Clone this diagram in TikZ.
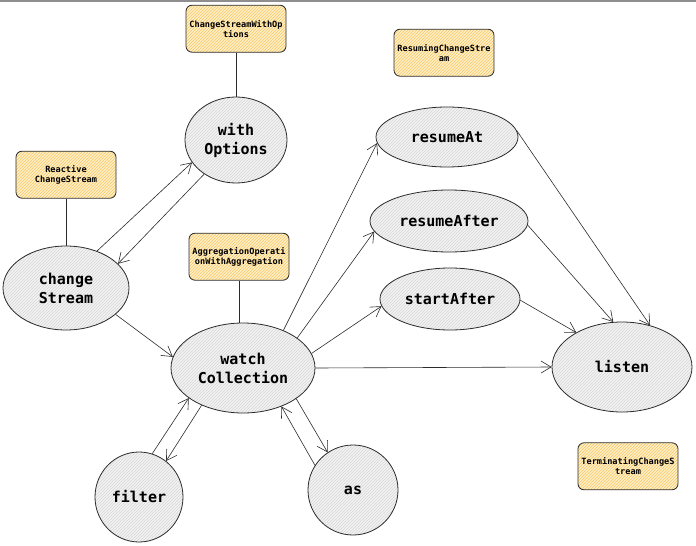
\documentclass[tikz,border=0pt]{standalone}
\usepackage{fontspec}
\setmonofont{DejaVu Sans Mono}
\usepackage{tikz}
\usetikzlibrary{arrows.meta,positioning,shapes.geometric,patterns}
\definecolor{ink}{HTML}{2B2B2B}
\definecolor{shade}{HTML}{F3F3F3}
\definecolor{hatch}{HTML}{D6D6D6}
\definecolor{notefill}{HTML}{FFF0C8}
\definecolor{notehatch}{HTML}{F6C766}
\definecolor{frame}{HTML}{8E8E8E}
\tikzset{
  >={Straight Barb[length=10pt,width=12pt]},
  op/.style={ellipse,draw=ink,line width=0.8pt,inner sep=0pt,align=center,
    preaction={fill=shade},pattern=north east lines,pattern color=hatch,
    font=\ttfamily\bfseries\fontsize{15}{19}\selectfont},
  note/.style={draw=ink,rounded corners=6pt,line width=0.8pt,inner sep=1pt,align=center,
    minimum width=100pt,minimum height=47pt,
    preaction={fill=notefill},pattern=north east lines,pattern color=notehatch,
    font=\ttfamily\bfseries\fontsize{8.6}{10}\selectfont},
  arr/.style={->,draw=ink,line width=0.6pt},
  tie/.style={draw=ink,line width=0.8pt},
}
\begin{document}
\begin{tikzpicture}[x=1pt,y=-1pt]
\useasboundingbox (0,0) rectangle (696,546);
\draw[frame,line width=1.5pt] (0,0.75) -- (696,0.75);

% operators
\node[op,minimum width=126pt,minimum height=84pt] (chg) at (66,288) {change\\Stream};
\node[op,minimum width=102pt,minimum height=86pt] (wopt) at (236,140) {with\\Options};
\node[op,minimum width=144pt,minimum height=90pt] (watch) at (243,368) {watch\\Collection};
\node[op,minimum width=142pt,minimum height=60pt] (rat) at (447,137) {resumeAt};
\node[op,minimum width=158pt,minimum height=62pt] (raft) at (449,221) {resumeAfter};
\node[op,minimum width=140pt,minimum height=62pt] (saft) at (450,299) {startAfter};
\node[op,minimum width=140pt,minimum height=90pt] (lis) at (622,367) {listen};
\node[op,minimum width=88pt,minimum height=90pt] (filt) at (139,497) {filter};
\node[op,minimum width=90pt,minimum height=90pt] (as) at (353,490) {as};

% type notes
\node[note,above=44pt of wopt] (nwopt) {ChangeStreamWithOp\\tions};
\node[note,above=47pt of chg] (nchg) {Reactive\\ChangeStream};
\node[note,above=42pt of watch,xshift=-4pt] (nwatch) {AggregationOperati\\onWithAggregation};
\node[note,above=30pt of rat,xshift=-3pt] (nres) {ResumingChangeStre\\am};
\node[note,below=30pt of lis,xshift=6pt] (nterm) {TerminatingChangeS\\tream};

\draw[tie] (nwopt) -- (wopt);
\draw[tie] (nchg) -- (chg);
\draw[tie] (nwatch.south) -- (nwatch.south |- watch.north);

\draw[arr] (chg.50) -- (wopt.207);
\draw[arr] (wopt.227) -- (chg.25);
\draw[arr] (chg.-28) -- (watch.171);

\draw[arr] (watch.43) -- (rat.185);
\draw[arr] (watch.29) -- (raft.188);
\draw[arr] (watch.12) -- (saft.186);
\draw[arr] (watch.0) -- (lis.180);

\draw[arr] (rat.5) -- (lis.56);
\draw[arr] (raft.-3) -- (lis.101);
\draw[arr] (saft.-1) -- (lis.143);

\draw[arr] (filt.73) -- (watch.209);
\draw[arr] (watch.222) -- (filt.53);
\draw[arr] (as.147) -- (watch.-45);
\draw[arr] (watch.-30) -- (as.124);
\end{tikzpicture}
\end{document}
